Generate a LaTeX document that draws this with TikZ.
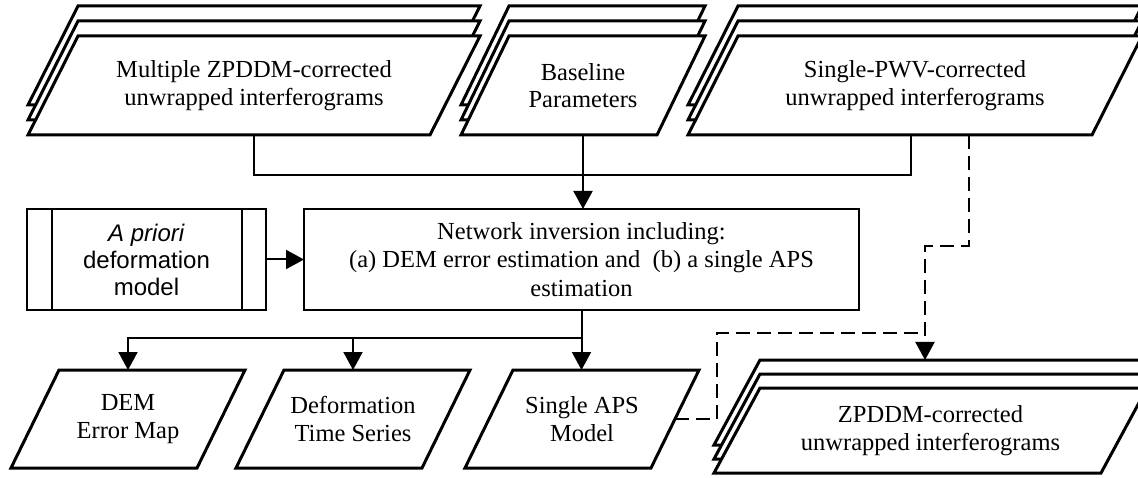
\documentclass[tikz,border=0pt]{standalone}
\usepackage{fontspec}
\setmainfont{Liberation Serif}
\newfontfamily\arialish{Liberation Sans}
\usetikzlibrary{arrows.meta,backgrounds}

\tikzset{
  sheetline/.style={draw=black, fill=white, line width=3pt},
  txt/.style={inner sep=0pt, outer sep=0pt, align=center, font=\fontsize{24.5}{27.5}\selectfont},
  procbox/.style={draw, line width=2.8pt},
  bus/.style={line width=1.6pt},
  flow/.style={line width=2pt, -{Triangle[length=18pt,width=19pt]}},
  dashline/.style={line width=2.2pt, dash pattern=on 14pt off 7pt},
  dashflow/.style={dashline, -{Triangle[length=18pt,width=19pt]}},
}

% one slanted sheet around a node: #1 node, #2 slant, #3 lift
\newcommand{\sheet}[3]{%
  \draw[sheetline] ([xshift=#2/2,yshift=#3]#1.north west) -- ([xshift=#2/2,yshift=#3]#1.north east)
    -- ([xshift=-#2/2,yshift=#3]#1.south east) -- ([xshift=-#2/2,yshift=#3]#1.south west) -- cycle;}

\begin{document}
\begin{tikzpicture}[x=1pt,y=-1pt]
\useasboundingbox (0,0) rectangle (1138,478);

% inputs
\node[txt, minimum width=402pt, minimum height=99pt] (s1) at (254,85.5) {Multiple ZPDDM-corrected\\unwrapped interferograms};
\node[txt, minimum width=196pt, minimum height=99pt] (s2) at (583,85.5) {Baseline\\Parameters};
\node[txt, minimum width=404pt, minimum height=99pt] (s3) at (915,85.5) {Single-PWV-corrected\\unwrapped interferograms};

% processing
\node[txt, procbox, font=\arialish\fontsize{24}{27}\selectfont, minimum width=239pt, minimum height=101pt] (ap) at (146.5,259.5) {\textit{A priori}\\deformation\\model};
\draw[line width=2.5pt] ([xshift=25pt]ap.north west) -- ([xshift=25pt]ap.south west);
\draw[line width=2.5pt] ([xshift=-24pt]ap.north east) -- ([xshift=-24pt]ap.south east);
\node[txt, procbox, font=\fontsize{24.5}{28.5}\selectfont, minimum width=555pt, minimum height=101pt] (net) at (581.5,259.5) {Network inversion including:\\(a) DEM error estimation and \ (b) a single APS\\estimation};

% outputs
\node[txt, minimum width=186pt, minimum height=98pt] (dem) at (128,419) {DEM\\Error Map};
\node[txt, minimum width=186pt, minimum height=98pt] (dts) at (353,419) {Deformation\\Time Series};
\node[txt, minimum width=186pt, minimum height=98pt] (aps) at (582,419) {Single APS\\Model};
\node[txt, minimum width=387pt, minimum height=85pt] (zc) at (930.5,430.5) {ZPDDM-corrected\\unwrapped interferograms};

\begin{scope}[on background layer]
  \sheet{s1}{50pt}{30pt} \sheet{s1}{50pt}{15pt} \sheet{s1}{50pt}{0pt}
  \sheet{s2}{48pt}{30pt} \sheet{s2}{48pt}{15pt} \sheet{s2}{48pt}{0pt}
  \sheet{s3}{50pt}{30pt} \sheet{s3}{50pt}{15pt} \sheet{s3}{50pt}{0pt}
  \sheet{dem}{48pt}{0pt}
  \sheet{dts}{48pt}{0pt}
  \sheet{aps}{48pt}{0pt}
  \sheet{zc}{46pt}{28pt} \sheet{zc}{46pt}{14pt} \sheet{zc}{46pt}{0pt}
\end{scope}

% junction points
\coordinate (bus) at (582,175);
\coordinate (fork) at (582,338);
\coordinate (jog) at (969,246);
\coordinate (merge) at (925,333);
\coordinate (ztop) at (925,360);

% connectors
\draw[bus] (s1.south) |- (bus) -| ([xshift=-4pt]s3.south);
\draw[flow] (s2.south) -- (s2.south |- net.north);
\draw[flow] (ap.east) -- (net.west);
\draw[flow] (net.south) -- (net.south |- aps.north);
\draw[flow] (fork) -| (dem.north);
\draw[flow] (fork -| dts.north) -- (dts.north);
\draw[dashflow] ([xshift=54pt]s3.south) -- (jog) -| (ztop);
\draw[dashline] (aps.east) -- ++(42,0) |- (merge);
\end{tikzpicture}
\end{document}
